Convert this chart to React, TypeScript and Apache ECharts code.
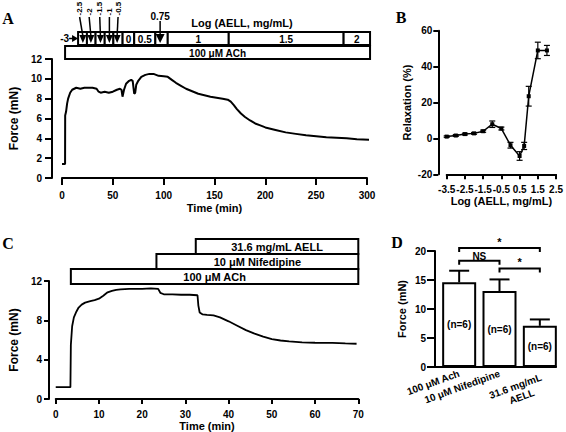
import React, { useEffect, useRef } from "react";
import * as echarts from "echarts";

const SANS = "'Liberation Sans', Arial, Helvetica, sans-serif";
const SERIF = "'Liberation Serif', 'Times New Roman', serif";

// ---------- Panel A: force trace (time in min, force in mN) ----------
const A_TIME = [0, 3, 3.1, 4, 5, 6, 8, 10, 12, 14, 18, 22, 26, 30, 34, 36, 38, 42, 46, 50, 54, 57, 58.5, 59.5, 61, 63, 66, 68, 69.5, 71, 72, 73, 75, 78, 82, 86, 90, 95, 100, 104, 108, 112, 117, 122, 128, 134, 140, 146, 152, 158, 163, 166, 169, 172, 176, 180, 185, 190, 195, 200, 210, 220, 230, 240, 250, 260, 270, 280, 290, 302];
const A_FORCE = [1.4, 1.4, 6.3, 6.7, 7.5, 8.0, 8.6, 8.9, 9.0, 9.1, 9.0, 9.1, 9.1, 9.1, 9.0, 8.7, 8.6, 8.7, 8.6, 8.7, 8.9, 9.0, 8.9, 8.2, 8.9, 9.5, 9.8, 9.9, 9.8, 8.5, 8.6, 9.4, 9.8, 10.2, 10.4, 10.5, 10.5, 10.3, 10.25, 10.2, 9.9, 9.6, 9.3, 9.0, 8.75, 8.5, 8.35, 8.2, 8.1, 8.0, 7.9, 7.7, 7.35, 6.95, 6.5, 6.15, 5.8, 5.5, 5.3, 5.1, 4.85, 4.6, 4.45, 4.3, 4.2, 4.1, 4.05, 4.0, 3.9, 3.85];
// annotation (times in min)
const A_ACH_START = 3;
const A_END = 303;
const A_DOSE_BOUNDS = [15.8, 24.5, 33, 42, 50.5, 59.6, 71, 91.8, 104, 164, 277, 303];
const A_DOSE_BOX_LABELS = ["", "", "", "", "", "0", "0.5", "", "1", "1.5", "2"];
const A_SMALL_LABELS = ["-2.5", "-2", "-1.5", "-1", "-0.5"];
const A_SMALL_LABEL_TIMES = [17.3, 26.7, 37.1, 46.6, 55.1];
const A_SMALL_ARROW_TIMES = [20.5, 28.4, 37.8, 46.6, 54.2];
const A_075_TIME = 96.5;

// ---------- Panel B: relaxation vs log concentration ----------
const B_X = [-3.5, -3, -2.5, -2, -1.5, -1, -0.5, 0, 0.5, 0.75, 1, 1.5, 2];
const B_Y = [1.0, 1.6, 2.4, 2.8, 4.0, 7.9, 5.5, -3.8, -9.8, -4.2, 23.5, 49, 49];
const B_ERR = [0.4, 0.5, 0.5, 0.5, 0.6, 1.8, 0.8, 1.6, 2.4, 2.0, 5.5, 4.6, 2.8];

// ---------- Panel C: force trace ----------
const C_TIME = [0, 3.4, 3.5, 3.8, 4.2, 4.8, 5.3, 6, 6.8, 8, 9, 10, 11, 12, 13, 14, 15, 17, 20, 22, 23.7, 24.2, 25, 27, 29, 31, 32.8, 33, 33.3, 34, 35, 36.5, 38, 40, 42, 44, 46, 48, 50, 52, 54, 57, 60, 64, 67, 69.6];
const C_FORCE = [1.2, 1.2, 5.5, 7.4, 8.3, 8.9, 9.3, 9.6, 9.8, 9.95, 10.05, 10.2, 10.5, 10.85, 11.0, 11.1, 11.15, 11.2, 11.2, 11.25, 11.2, 10.8, 10.65, 10.65, 10.6, 10.6, 10.55, 9.5, 8.8, 8.6, 8.55, 8.5, 8.3, 7.9, 7.45, 7.0, 6.65, 6.35, 6.1, 5.95, 5.85, 5.75, 5.72, 5.7, 5.65, 5.62];
const C_ACH_START = 3.5;
const C_NIF_START = 23.3;
const C_AELL_START = 32.4;
const C_END = 70;

// ---------- Panel D: bars ----------
const D_CATS = ["100 μM Ach", "10 μM Nifedipine", "31.6 mg/mL\nAELL"];
const D_MEAN = [14.6, 13.1, 7.1];
const D_SEM = [2.0, 2.0, 1.1];
const D_N = ["(n=6)", "(n=6)", "(n=6)"];
const D_SIG_FROM = [0, 0, 1];
const D_SIG_TO = [2, 1, 2];
const D_SIG_Y = [20.5, 18.3, 17.0];
const D_SIG_TEXT = ["*", "NS", "*"];

const BLACK = "#000";

function axisStyle(tickLen: number, margin: number) {
  return {
    axisLine: { show: true, onZero: false, lineStyle: { color: BLACK, width: 2 } },
    axisTick: { show: true, inside: false, length: tickLen, lineStyle: { color: BLACK, width: 2 } },
    axisLabel: { color: BLACK, fontSize: 10, fontWeight: "bold", fontFamily: SANS, margin },
    splitLine: { show: false },
    nameTextStyle: { color: BLACK, fontWeight: "bold", fontFamily: SANS, fontSize: 11 },
    nameLocation: "middle",
  };
}

function buildOption(): any {
  return {
    animation: false,
    textStyle: { fontFamily: SANS },
    grid: [
      { left: 50, top: 59, width: 317, height: 119 },
      { left: 446.7, top: 30.7, width: 110, height: 143.6 },
      { left: 42.7, top: 281, width: 315.6, height: 118 },
      { left: 439, top: 251, width: 121, height: 116 },
    ],
    xAxis: [
      { ...axisStyle(7, 12), type: "value", gridIndex: 0, min: 0, max: 300, interval: 50, name: "Time (min)", nameGap: 24 },
      { ...axisStyle(5, 10), type: "value", gridIndex: 1, min: -3.5, max: 2.5, interval: 1, name: "Log (AELL, mg/mL)", nameGap: 21 },
      { ...axisStyle(5, 10), type: "value", gridIndex: 2, min: 0, max: 70, interval: 10, name: "Time (min)", nameGap: 21 },
      {
        ...axisStyle(0, 6),
        type: "category",
        gridIndex: 3,
        data: D_CATS,
        axisLine: { show: false },
        axisTick: { show: false },
        axisLabel: {
          color: BLACK,
          interval: 0,
          rotate: 20,
          margin: 6,
          formatter: (v: string) => {
            const parts = v.split("\n");
            if (parts.length === 1) return `{a|${v}}`;
            return `{e| }\n{a|${parts[0]}}\n{b|${parts[1]}}`;
          },
          rich: {
            e: { fontSize: 10, lineHeight: 20 },
            a: { fontSize: 10, fontWeight: "bold", fontFamily: SANS, color: BLACK, lineHeight: 12 },
            b: { fontSize: 10, fontWeight: "bold", fontFamily: SANS, color: BLACK, lineHeight: 12, padding: [0, 12, 0, 0] },
          },
        },
      },
    ],
    yAxis: [
      { ...axisStyle(7, 10), type: "value", gridIndex: 0, min: 0, max: 12, interval: 2, offset: 10, name: "Force (mN)", nameGap: 22, nameTextStyle: { color: BLACK, fontWeight: "bold", fontFamily: SANS, fontSize: 12 } },
      { ...axisStyle(5, 6), type: "value", gridIndex: 1, min: -20, max: 60, interval: 20, offset: 8.4, name: "Relaxation (%)", nameGap: 26 },
      { ...axisStyle(5, 7), type: "value", gridIndex: 2, min: 0, max: 12, interval: 4, offset: 6.7, name: "Force (mN)", nameGap: 20, nameTextStyle: { color: BLACK, fontWeight: "bold", fontFamily: SANS, fontSize: 12 } },
      { ...axisStyle(8, 9), type: "value", gridIndex: 3, min: 0, max: 20, interval: 5, offset: 4, name: "Force (mN)", nameGap: 28 },
    ],
    series: [
      {
        type: "line",
        xAxisIndex: 0,
        yAxisIndex: 0,
        data: A_TIME.map((t, i) => [t, A_FORCE[i]]),
        symbol: "none",
        clip: false,
        lineStyle: { color: BLACK, width: 2 },
      },
      {
        type: "line",
        xAxisIndex: 1,
        yAxisIndex: 1,
        data: B_X.map((x, i) => [x, B_Y[i]]),
        symbol: "rect",
        symbolSize: 4,
        itemStyle: { color: BLACK },
        lineStyle: { color: BLACK, width: 1.5 },
        z: 4,
      },
      {
        type: "custom",
        xAxisIndex: 1,
        yAxisIndex: 1,
        data: B_X.map((x, i) => [x, B_Y[i] - B_ERR[i], B_Y[i] + B_ERR[i]]),
        encode: { x: 0, y: [1, 2] },
        renderItem: (_p: any, api: any) => {
          const x = api.value(0);
          const lo = api.coord([x, api.value(1)]);
          const hi = api.coord([x, api.value(2)]);
          const w = 3;
          const st = { stroke: BLACK, lineWidth: 1.2 };
          return {
            type: "group",
            children: [
              { type: "line", shape: { x1: lo[0], y1: lo[1], x2: hi[0], y2: hi[1] }, style: st },
              { type: "line", shape: { x1: lo[0] - w, y1: lo[1], x2: lo[0] + w, y2: lo[1] }, style: st },
              { type: "line", shape: { x1: hi[0] - w, y1: hi[1], x2: hi[0] + w, y2: hi[1] }, style: st },
            ],
          };
        },
        z: 3,
      },
      {
        type: "line",
        xAxisIndex: 2,
        yAxisIndex: 2,
        data: C_TIME.map((t, i) => [t, C_FORCE[i]]),
        symbol: "none",
        lineStyle: { color: BLACK, width: 1.8 },
      },
      {
        type: "bar",
        xAxisIndex: 3,
        yAxisIndex: 3,
        data: D_MEAN,
        barWidth: 34,
        itemStyle: { color: "#fff", borderColor: BLACK, borderWidth: 2 },
        label: {
          show: true,
          position: "inside",
          formatter: (p: any) => D_N[p.dataIndex],
          color: BLACK,
          fontSize: 10,
          fontWeight: "bold",
          fontFamily: SANS,
        },
      },
      {
        type: "custom",
        xAxisIndex: 3,
        yAxisIndex: 3,
        data: D_MEAN.map((m, i) => [i, m, m + D_SEM[i]]),
        encode: { x: 0, y: [1, 2] },
        renderItem: (_p: any, api: any) => {
          const lo = api.coord([api.value(0), api.value(1)]);
          const hi = api.coord([api.value(0), api.value(2)]);
          const w = 10;
          const st = { stroke: BLACK, lineWidth: 2 };
          return {
            type: "group",
            children: [
              { type: "line", shape: { x1: lo[0], y1: lo[1], x2: hi[0], y2: hi[1] }, style: st },
              { type: "line", shape: { x1: hi[0] - w, y1: hi[1], x2: hi[0] + w, y2: hi[1] }, style: st },
            ],
          };
        },
        z: 3,
      },
      {
        type: "custom",
        xAxisIndex: 3,
        yAxisIndex: 3,
        data: D_SIG_Y.map((y, i) => [D_SIG_FROM[i], D_SIG_TO[i], y]),
        encode: { x: [0, 1], y: 2 },
        renderItem: (p: any, api: any) => {
          const a = api.coord([api.value(0), api.value(2)]);
          const b = api.coord([api.value(1), api.value(2)]);
          const leg = 4;
          const txt = D_SIG_TEXT[p.dataIndex];
          const isStar = txt === "*";
          return {
            type: "group",
            children: [
              {
                type: "polyline",
                shape: { points: [[a[0], a[1] + leg], [a[0], a[1]], [b[0], b[1]], [b[0], b[1] + leg]] },
                style: { stroke: BLACK, lineWidth: 2, fill: null },
              },
              {
                type: "text",
                x: (a[0] + b[0]) / 2,
                y: isStar ? a[1] - 1 : a[1] + 1,
                style: {
                  text: txt,
                  fill: BLACK,
                  font: `bold ${isStar ? 11 : 10}px ${SANS}`,
                  align: "center",
                  textAlign: "center",
                  verticalAlign: "bottom",
                  textVerticalAlign: "bottom",
                },
              },
            ],
          };
        },
        z: 3,
      },
    ],
  };
}

function buildGraphic(chart: any): any[] {
  const P = (g: number, x: any, y: number) => chart.convertToPixel({ gridIndex: g }, [x, y]) as number[];
  const els: any[] = [];
  const txt = (x: number, y: number, text: string, size: number, align = "center", extra: any = {}, family = SANS) =>
    els.push({
      type: "text",
      x,
      y,
      z: 20,
      ...extra,
      style: {
        text,
        fill: BLACK,
        font: `bold ${size}px ${family}`,
        align,
        textAlign: align,
        verticalAlign: "middle",
        textVerticalAlign: "middle",
      },
    });
  const box = (x1: number, y1: number, x2: number, y2: number, label: string, fs: number) => {
    els.push({
      type: "rect",
      z: 10,
      shape: { x: x1, y: y1, width: x2 - x1, height: y2 - y1 },
      style: { fill: "#fff", stroke: BLACK, lineWidth: 2 },
    });
    if (label) txt((x1 + x2) / 2, (y1 + y2) / 2 + 0.5, label, fs);
  };
  const arrowDown = (x0: number, y0: number, x1: number, y1: number, hw: number, hh: number) => {
    els.push({ type: "line", z: 21, shape: { x1: x0, y1: y0, x2: x1, y2: y1 - hh + 1 }, style: { stroke: BLACK, lineWidth: 1.5 } });
    els.push({ type: "polygon", z: 21, shape: { points: [[x1 - hw, y1 - hh], [x1 + hw, y1 - hh], [x1, y1]] }, style: { fill: BLACK } });
  };

  // ----- Panel A annotations -----
  const XA = (t: number) => P(0, t, 0)[0];
  const topA = P(0, 0, 12)[1];
  box(XA(A_ACH_START), topA - 13, XA(A_END), topA, "100 μM ACh", 10);
  const r1 = topA - 27;
  const r2 = topA - 14;
  for (let i = 0; i < A_DOSE_BOUNDS.length - 1; i++) {
    box(XA(A_DOSE_BOUNDS[i]), r1, XA(A_DOSE_BOUNDS[i + 1]), r2, A_DOSE_BOX_LABELS[i], 10);
  }
  A_SMALL_LABELS.forEach((lab, i) => {
    const lx = XA(A_SMALL_LABEL_TIMES[i]);
    txt(lx, 15.5, lab, 8, "left", { rotation: Math.PI / 2 });
    arrowDown(lx, 17, XA(A_SMALL_ARROW_TIMES[i]), r2 - 2, 3.5, 8);
  });
  const x075 = XA(A_075_TIME);
  txt(x075, 16, "0.75", 10);
  arrowDown(x075, 21, x075, r2 - 2, 4.5, 9);
  const x3 = XA(A_DOSE_BOUNDS[0]);
  const ym = (r1 + r2) / 2;
  txt(x3 - 9, ym, "-3", 10, "right");
  els.push({ type: "line", z: 21, shape: { x1: x3 - 9, y1: ym, x2: x3 - 5, y2: ym }, style: { stroke: BLACK, lineWidth: 1.5 } });
  els.push({ type: "polygon", z: 21, shape: { points: [[x3 - 6, ym - 3.5], [x3 - 6, ym + 3.5], [x3, ym]] }, style: { fill: BLACK } });
  txt(XA(177), r1 - 9, "Log (AELL, mg/mL)", 11);

  // ----- Panel C annotations -----
  const XC = (t: number) => P(2, t, 0)[0];
  const topC = P(2, 0, 12)[1];
  box(XC(C_ACH_START), topC - 12, XC(C_END), topC + 3, "100 μM ACh", 11);
  box(XC(C_NIF_START), topC - 27, XC(C_END), topC - 12, "10 μM Nifedipine", 11);
  box(XC(C_AELL_START), topC - 42, XC(C_END), topC - 27, "31.6 mg/mL AELL", 11);

  // ----- Panel D x axis line -----
  const c0 = P(3, 0, 0);
  const c1 = P(3, 1, 0);
  const c2 = P(3, 2, 0);
  const band = c1[0] - c0[0];
  const gl = c0[0] - band / 2;
  els.push({ type: "line", z: 5, shape: { x1: gl - 5, y1: c0[1], x2: c2[0] + 17, y2: c0[1] }, style: { stroke: BLACK, lineWidth: 2 } });

  // ----- Panel letters -----
  txt(8, 18, "A", 16, "center", {}, SERIF);
  txt(401, 17, "B", 16, "center", {}, SERIF);
  txt(8, 243, "C", 16, "center", {}, SERIF);
  txt(397, 242, "D", 16, "center", {}, SERIF);
  return els;
}

export default function App() {
  const ref = useRef<HTMLDivElement>(null);
  useEffect(() => {
    document.body.style.margin = "0";
    const chart = echarts.init(ref.current!, undefined, { renderer: "svg" });
    chart.setOption(buildOption());
    chart.setOption({ graphic: buildGraphic(chart) });
    return () => chart.dispose();
  }, []);
  return <div ref={ref} style={{ width: 566, height: 432, background: "#fff" }} />;
}
